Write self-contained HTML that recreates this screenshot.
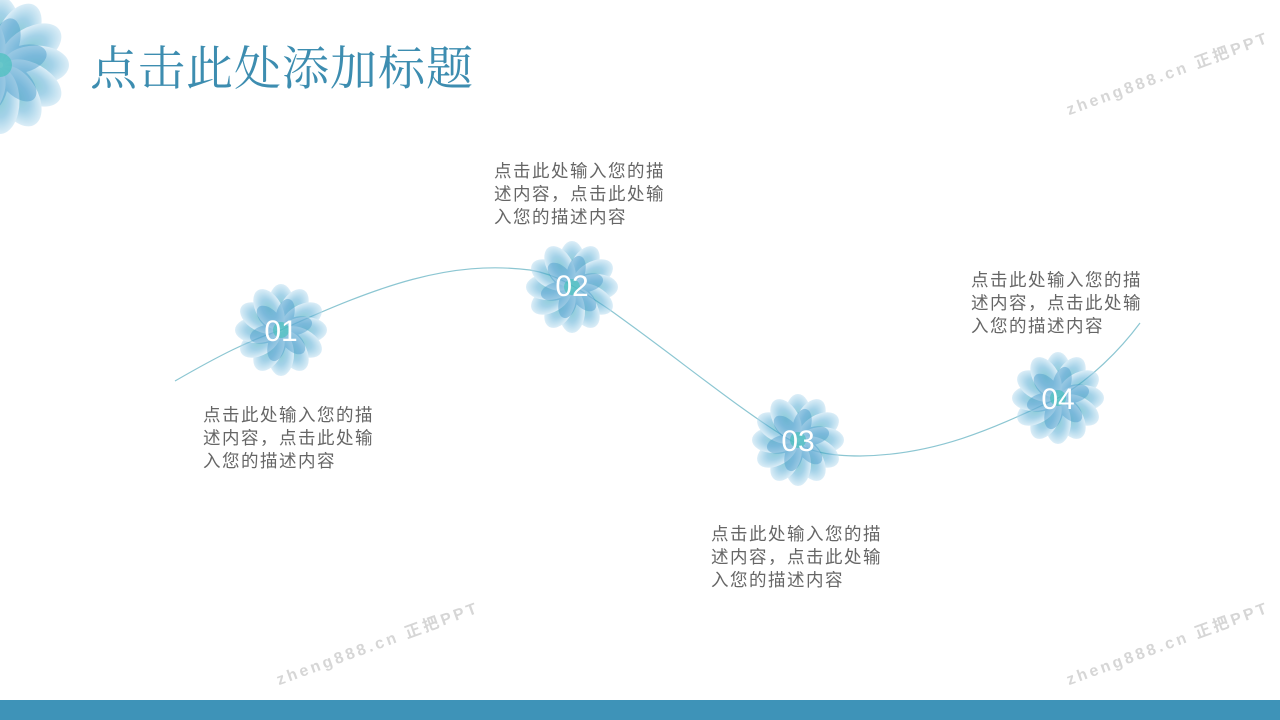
<!DOCTYPE html>
<html><head><meta charset="utf-8"><style>
body{margin:0;width:1280px;height:720px;overflow:hidden;background:#fff;font-family:"Liberation Sans","Noto Sans CJK SC",sans-serif;position:relative}
.t{position:absolute;font-size:17.5px;line-height:23px;color:#666;width:180px;letter-spacing:1.5px}
.title{position:absolute;left:90px;top:32px;font-size:47px;color:#3d8db0;font-family:"Liberation Serif","Noto Serif CJK SC",serif;letter-spacing:1px}
.n{font-family:"Liberation Sans",sans-serif;font-size:30px;fill:#fff;text-anchor:middle}
.wm{position:absolute;color:#ccc;font-size:16px;font-weight:bold;letter-spacing:3px;transform:rotate(-20deg);opacity:.8}
</style></head><body>
<svg width="1280" height="720" style="position:absolute;left:0;top:0">
<defs>
<radialGradient id="g" cx="50%" cy="50%" r="50%">
<stop offset="0" stop-color="#2fa3b8"/><stop offset=".5" stop-color="#5aaed6"/><stop offset="1" stop-color="#bfe0f2"/></radialGradient>
<g id="f">
<g fill="url(#g)" opacity=".55">
<ellipse cx="0" cy="-24" rx="13" ry="22" transform="rotate(0)"/><ellipse cx="0" cy="-24" rx="13" ry="22" transform="rotate(30)"/><ellipse cx="0" cy="-24" rx="13" ry="22" transform="rotate(60)"/><ellipse cx="0" cy="-24" rx="13" ry="22" transform="rotate(90)"/><ellipse cx="0" cy="-24" rx="13" ry="22" transform="rotate(120)"/><ellipse cx="0" cy="-24" rx="13" ry="22" transform="rotate(150)"/><ellipse cx="0" cy="-24" rx="13" ry="22" transform="rotate(180)"/><ellipse cx="0" cy="-24" rx="13" ry="22" transform="rotate(210)"/><ellipse cx="0" cy="-24" rx="13" ry="22" transform="rotate(240)"/><ellipse cx="0" cy="-24" rx="13" ry="22" transform="rotate(270)"/><ellipse cx="0" cy="-24" rx="13" ry="22" transform="rotate(300)"/><ellipse cx="0" cy="-24" rx="13" ry="22" transform="rotate(330)"/>
</g>
<g fill="#4a9ccc" opacity=".45">
<ellipse cx="0" cy="-16" rx="9" ry="16" transform="rotate(15)"/><ellipse cx="0" cy="-16" rx="9" ry="16" transform="rotate(75)"/><ellipse cx="0" cy="-16" rx="9" ry="16" transform="rotate(135)"/><ellipse cx="0" cy="-16" rx="9" ry="16" transform="rotate(195)"/><ellipse cx="0" cy="-16" rx="9" ry="16" transform="rotate(255)"/><ellipse cx="0" cy="-16" rx="9" ry="16" transform="rotate(315)"/>
</g>
<circle r="8" fill="#3cc0b8" opacity=".6"/>
</g>
</defs>
<path d="M175,381 C220,355 250,340 281,330 C380,285 450,260 530,270 C560,275 580,290 610,310 C680,360 740,410 790,440 C810,452 830,456 860,456 C940,455 1000,425 1058,398 C1090,380 1120,350 1140,323" fill="none" stroke="#8cc6d2" stroke-width="1.2"/>
<g transform="translate(0,65) scale(1.5)"><use href="#f"/></g>
<use href="#f" transform="translate(281,330)"/><text class="n" x="281" y="341">01</text>
<use href="#f" transform="translate(572,287)"/><text class="n" x="572" y="296">02</text>
<use href="#f" transform="translate(798,440)"/><text class="n" x="798" y="451">03</text>
<use href="#f" transform="translate(1058,398)"/><text class="n" x="1058" y="409">04</text>
</svg>
<div class="title">点击此处添加标题</div>
<div class="t" style="left:494px;top:160px">点击此处输入您的描述内容，点击此处输入您的描述内容</div>
<div class="t" style="left:203px;top:404px">点击此处输入您的描述内容，点击此处输入您的描述内容</div>
<div class="t" style="left:711px;top:523px">点击此处输入您的描述内容，点击此处输入您的描述内容</div>
<div class="t" style="left:971px;top:269px">点击此处输入您的描述内容，点击此处输入您的描述内容</div>
<div class="wm" style="left:1060px;top:60px">zheng888.cn 正把PPT</div>
<div class="wm" style="left:270px;top:630px">zheng888.cn 正把PPT</div>
<div class="wm" style="left:1060px;top:630px">zheng888.cn 正把PPT</div>
<div style="position:absolute;left:0;top:700px;width:1280px;height:20px;background:#3e93b8"></div>
</body></html>
